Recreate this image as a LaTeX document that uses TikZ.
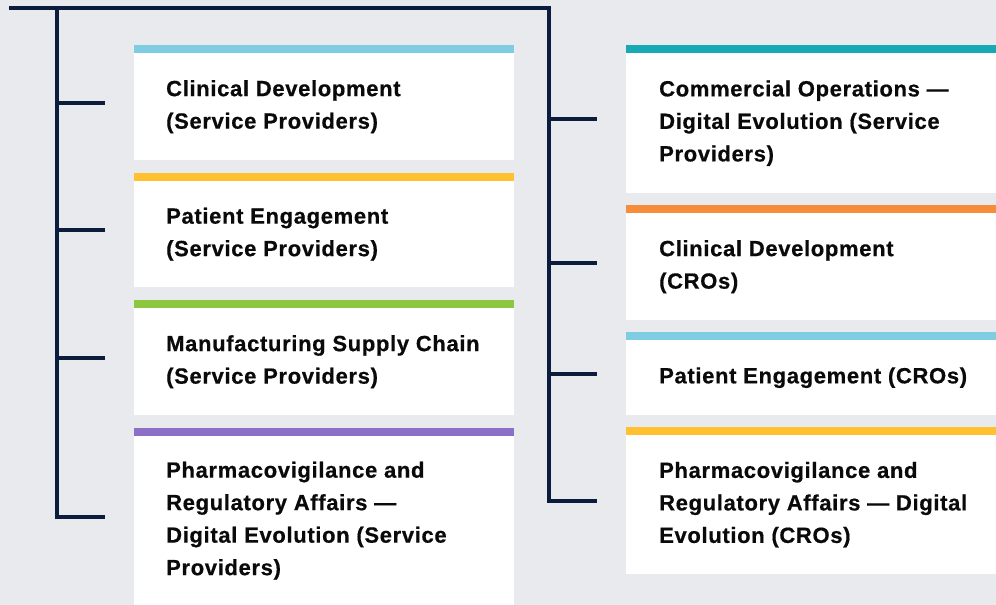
\documentclass[tikz,border=0pt]{standalone}
\usepackage{fontspec}
\usetikzlibrary{calc}
\newfontfamily\cardfam{Liberation Sans}[LetterSpace=3, BoldFeatures={FakeBold=0.6}]
\definecolor{pagebg}{HTML}{E9EAEE}
\definecolor{navy}{HTML}{0B1C3D}
\definecolor{inktext}{HTML}{0A0A0A}
\definecolor{skyblue}{HTML}{7FCDE3}
\definecolor{sunyellow}{HTML}{FFC12F}
\definecolor{leafgreen}{HTML}{8DC63F}
\definecolor{lavender}{HTML}{8C6FC6}
\definecolor{teal}{HTML}{17A9B5}
\definecolor{tangerine}{HTML}{F78D3B}
\tikzset{
  x=1pt, y=-1pt,
  card/.style={draw=none, fill=white, anchor=north west, inner sep=0pt},
  leftcard/.style={card, minimum width=380pt},
  rightcard/.style={card, minimum width=370pt},
  cardtext/.style={anchor=west, align=left, inner sep=0pt, text=inktext,
    font=\cardfam\bfseries\fontsize{22pt}{32.5pt}\selectfont},
  wire/.style={draw=navy, line width=4pt},
}
\newcommand\cardbar[2]{%
  \fill[#2] (#1.north west) rectangle ([yshift=8pt]#1.north east);}
\begin{document}
\begin{tikzpicture}
  % page
  \fill[pagebg] (0,0) rectangle (996,605);
  \useasboundingbox (0,0) rectangle (996,605);

  % left column cards
  \node[leftcard, minimum height=107pt] (L1) at (134,53) {};
  \node[leftcard, minimum height=106pt] (L2) at (134,181) {};
  \node[leftcard, minimum height=107pt] (L3) at (134,308) {};
  \node[leftcard, minimum height=169pt] (L4) at (134,436) {};
  \cardbar{L1}{skyblue}
  \cardbar{L2}{sunyellow}
  \cardbar{L3}{leafgreen}
  \cardbar{L4}{lavender}

  % right column cards
  \node[rightcard, minimum height=140pt] (R1) at (626,53) {};
  \node[rightcard, minimum height=107pt] (R2) at (626,213) {};
  \node[rightcard, minimum height=75pt] (R3) at (626,340) {};
  \node[rightcard, minimum height=139pt] (R4) at (626,435) {};
  \cardbar{R1}{teal}
  \cardbar{R2}{tangerine}
  \cardbar{R3}{skyblue}
  \cardbar{R4}{sunyellow}

  % card labels
  \node[cardtext] (L1t) at ($(L1.west)+(32,0)$) {Clinical Development\\(Service Providers)};
  \node[cardtext] (L2t) at ($(L2.west)+(32,0)$) {Patient Engagement\\(Service Providers)};
  \node[cardtext] (L3t) at ($(L3.west)+(32,0)$) {Manufacturing Supply Chain\\(Service Providers)};
  \node[cardtext] (L4t) at ($(L4.west)+(32,0)$) {Pharmacovigilance and\\Regulatory Affairs —\\Digital Evolution (Service\\Providers)};
  \node[cardtext] (R1t) at ($(R1.west)+(33,0)$) {Commercial Operations —\\Digital Evolution (Service\\Providers)};
  \node[cardtext] (R2t) at ($(R2.west)+(33,0)$) {Clinical Development\\(CROs)};
  \node[cardtext] (R3t) at ($(R3.west)+(33,0)$) {Patient Engagement (CROs)};
  \node[cardtext] (R4t) at ($(R4.west)+(33,0)$) {Pharmacovigilance and\\Regulatory Affairs — Digital\\Evolution (CROs)};

  % tree connectors
  \coordinate (root) at (9,8);
  \coordinate (ltrunk) at (57,8);
  \coordinate (rtrunk) at (549,8);
  \foreach \c in {L1,L2,L3,L4,R1,R2,R3,R4}
    \coordinate (\c tip) at ($(\c.west)+(-29,-4)$);

  \draw[wire] (root) -- (rtrunk) |- (R4tip);
  \draw[wire] (ltrunk) |- (L4tip);
  \foreach \c in {L1,L2,L3}
    \draw[wire] (\c tip -| ltrunk) -- (\c tip);
  \foreach \c in {R1,R2,R3}
    \draw[wire] (\c tip -| rtrunk) -- (\c tip);
\end{tikzpicture}
\end{document}
